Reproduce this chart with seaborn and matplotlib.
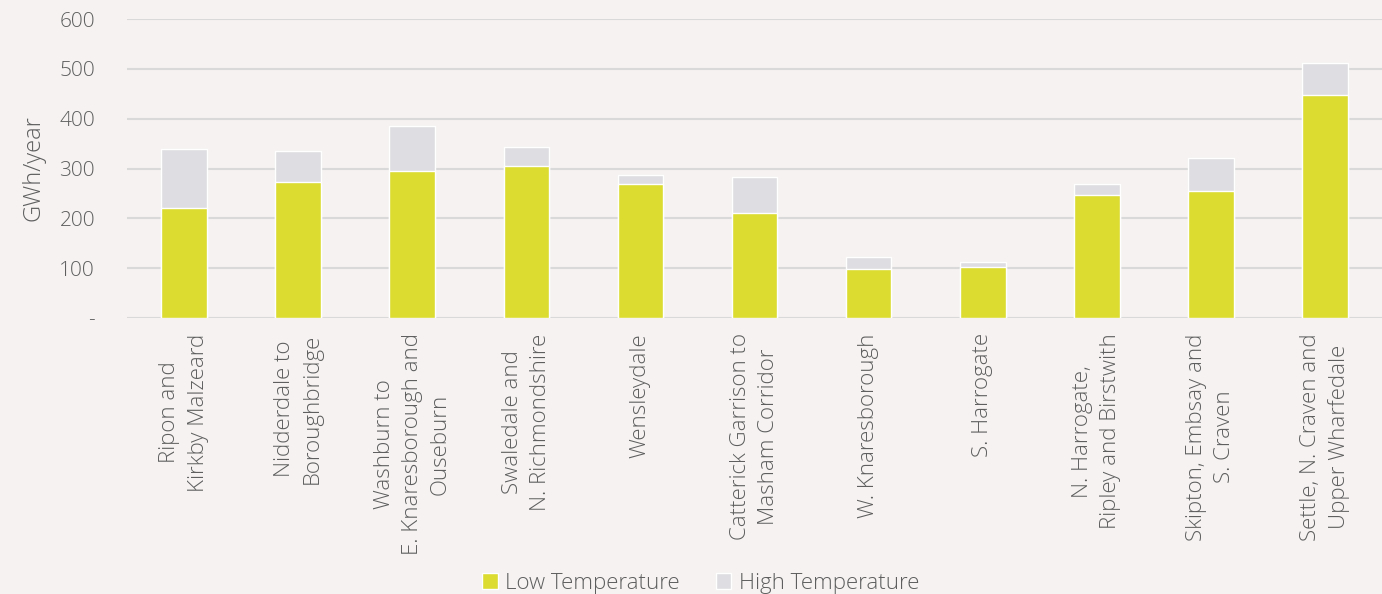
import pandas as pd
import seaborn as sns
import matplotlib.pyplot as plt

# areas along the x axis
areas = [
    "Ripon and\nKirkby Malzeard",
    "Nidderdale to\nBoroughbridge",
    "Washburn to\nE. Knaresborough and\nOuseburn",
    "Swaledale and\nN. Richmondshire",
    "Wensleydale",
    "Catterick Garrison to\nMasham Corridor",
    "W. Knaresborough",
    "S. Harrogate",
    "N. Harrogate,\nRipley and Birstwith",
    "Skipton, Embsay and\nS. Craven",
    "Settle, N. Craven and\nUpper Wharfedale",
]
low_temp = [220, 272, 296, 305, 269, 211, 98, 102, 247, 255, 448]
high_temp = [119, 63, 89, 38, 18, 72, 24, 10, 22, 66, 64]
y_ticks = [0, 100, 200, 300, 400, 500, 600]
y_tick_labels = ["-", "100", "200", "300", "400", "500", "600"]

BG = "#F5F2F1"
LOW_COLOR = "#DCDC30"
HIGH_COLOR = "#DEDDE1"
TEXT_COLOR = "#5E5E5E"

df = pd.DataFrame({"area": areas, "low": low_temp, "high": high_temp})
df["total"] = df["low"] + df["high"]

sns.set_style("white")
plt.rcParams["font.family"] = ["Open Sans", "DejaVu Sans"]
plt.rcParams["font.weight"] = "light"
plt.rcParams["axes.labelweight"] = "light"

fig = plt.figure(figsize=(13.82, 5.94), dpi=100, facecolor=BG)
ax = fig.add_axes([0.0919, 0.4646, 0.9081, 0.5034])
ax.set_facecolor(BG)

sns.barplot(data=df, x="area", y="total", color=HIGH_COLOR, width=0.4,
            saturation=1, ax=ax, label="High Temperature", zorder=3)
sns.barplot(data=df, x="area", y="low", color=LOW_COLOR, width=0.4,
            saturation=1, ax=ax, label="Low Temperature", zorder=3)

ax.set_ylim(0, 600)
ax.set_yticks(y_ticks)
ax.set_yticklabels(y_tick_labels)
ax.set_xlim(-0.5, len(areas) - 0.5)
ax.grid(axis="y", color="#D9D9D9", linewidth=1.5, zorder=0)
ax.set_axisbelow(True)
for s in ax.spines.values():
    s.set_visible(False)

ax.tick_params(axis="y", length=0, pad=23, labelsize=15, labelcolor=TEXT_COLOR)
ax.tick_params(axis="x", length=0, pad=11, labelsize=16, labelcolor=TEXT_COLOR)
for lbl in ax.get_xticklabels():
    lbl.set_rotation(90)
    lbl.set_ha("center")
    lbl.set_va("top")
    lbl.set_multialignment("center")
    lbl.set_linespacing(1.45)

ax.set_xlabel("")
ax.set_ylabel("GWh/year", fontsize=17, color=TEXT_COLOR, labelpad=10,
              fontweight="light")

handles, labels = ax.get_legend_handles_labels()
order = [labels.index("Low Temperature"), labels.index("High Temperature")]
leg = fig.legend([handles[i] for i in order], [labels[i] for i in order],
                 loc="lower center", bbox_to_anchor=(0.507, -0.033), ncol=2,
                 frameon=False, fontsize=16, handlelength=0.7, handleheight=0.7,
                 handletextpad=0.35, columnspacing=1.6, labelcolor=TEXT_COLOR)
if ax.get_legend() is not None:
    ax.get_legend().remove()

fig.savefig("out.png", dpi=100, facecolor=BG)
